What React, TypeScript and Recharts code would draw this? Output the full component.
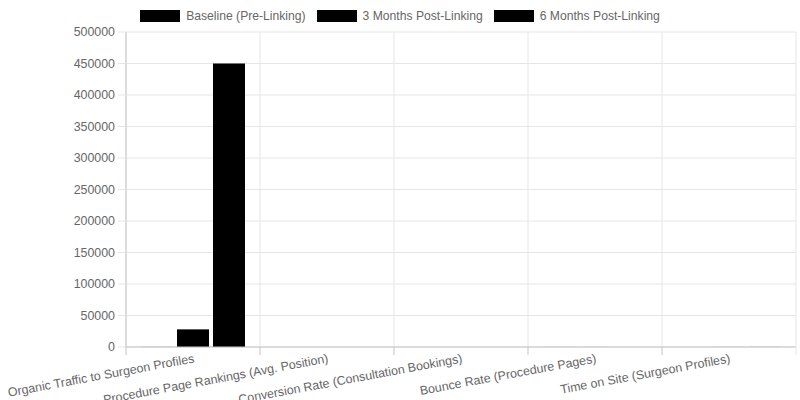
import { BarChart, Bar, XAxis, YAxis, CartesianGrid, Legend } from 'recharts'

const categories = [
  'Organic Traffic to Surgeon Profiles',
  'Procedure Page Rankings (Avg. Position)',
  'Conversion Rate (Consultation Bookings)',
  'Bounce Rate (Procedure Pages)',
  'Time on Site (Surgeon Profiles)',
]
const baseline = [150, 18.4, 2.1, 68, 45]
const threeMonths = [28000, 9.6, 3.4, 54, 92]
const sixMonths = [450000, 4.2, 4.9, 41, 138]
const yTicks = [0, 50000, 100000, 150000, 200000, 250000, 300000, 350000, 400000, 450000, 500000]

const series = [
  { key: 'baseline', name: 'Baseline (Pre-Linking)', color: '#000000' },
  { key: 'threeMonths', name: '3 Months Post-Linking', color: '#000000' },
  { key: 'sixMonths', name: '6 Months Post-Linking', color: '#000000' },
]

const data = categories.map((name, i) => ({
  name,
  baseline: baseline[i],
  threeMonths: threeMonths[i],
  sixMonths: sixMonths[i],
}))

const FONT = '"Liberation Sans", Arial, Helvetica, sans-serif'
const FONT_SIZE = 12.4
const TEXT = '#666666'
const GRID = '#e6e6e6'
const AXIS = '#c4c4c4'

function LegendContent() {
  return (
    <div
      style={{
        display: 'flex',
        justifyContent: 'center',
        paddingTop: 10,
        height: 12,
        fontFamily: FONT,
        fontSize: 12.15,
        color: TEXT,
        lineHeight: '12px',
      }}
    >
      {series.map((s, i) => (
        <div key={s.key} style={{ display: 'flex', alignItems: 'center', marginLeft: i ? 11 : 0 }}>
          <span style={{ width: 40, height: 12, background: s.color, marginRight: 6 }} />
          <span>{s.name}</span>
        </div>
      ))}
    </div>
  )
}

// eslint-disable-next-line @typescript-eslint/no-explicit-any
function XTick(props: any) {
  const { x, y, payload, index, visibleTicksCount } = props
  const half = payload.offset ?? 0
  const last = index === visibleTicksCount - 1
  return (
    <g>
      <line x1={x - half} x2={x - half} y1={y} y2={y + 8} stroke={AXIS} />
      {last && <line x1={x + half} x2={x + half} y1={y} y2={y + 8} stroke={GRID} />}
      <text
        transform={`translate(${x + 1},${y + 11}) rotate(-10.5)`}
        textAnchor="end"
        dy="0.35em"
        fill={TEXT}
        fontSize={FONT_SIZE}
        fontFamily={FONT}
      >
        {payload.value}
      </text>
    </g>
  )
}

export default function App() {
  return (
    <div style={{ position: 'absolute', left: 0, top: 0, width: 800, height: 400, background: '#fff' }}>
      <BarChart
        width={800}
        height={400}
        data={data}
        margin={{ top: 10, right: 4, bottom: 0, left: 0 }}
        barSize={32}
        barGap={4}
      >
        <Legend
          verticalAlign="top"
          content={<LegendContent />}
          wrapperStyle={{ left: 0, top: 0, width: 800 }}
        />
        <CartesianGrid
          stroke={GRID}
          // eslint-disable-next-line @typescript-eslint/no-explicit-any
          verticalCoordinatesGenerator={({ offset }: any) =>
            categories.map((_, i) => offset.left + (i * offset.width) / categories.length).concat(offset.left + offset.width)
          }
        />
        <XAxis
          dataKey="name"
          interval={0}
          height={53}
          tickLine={false}
          tickSize={0}
          tickMargin={0}
          axisLine={{ stroke: AXIS }}
          tick={<XTick />}
        />
        <YAxis
          width={126}
          domain={[0, 500000]}
          ticks={yTicks}
          interval={0}
          tickSize={8}
          tickMargin={3}
          tickLine={{ stroke: GRID }}
          axisLine={{ stroke: AXIS }}
          tick={{ fill: TEXT, fontSize: FONT_SIZE, fontFamily: FONT }}
        />
        {series.map((s) => (
          <Bar key={s.key} dataKey={s.key} name={s.name} fill={s.color} isAnimationActive={false} />
        ))}
      </BarChart>
    </div>
  )
}
